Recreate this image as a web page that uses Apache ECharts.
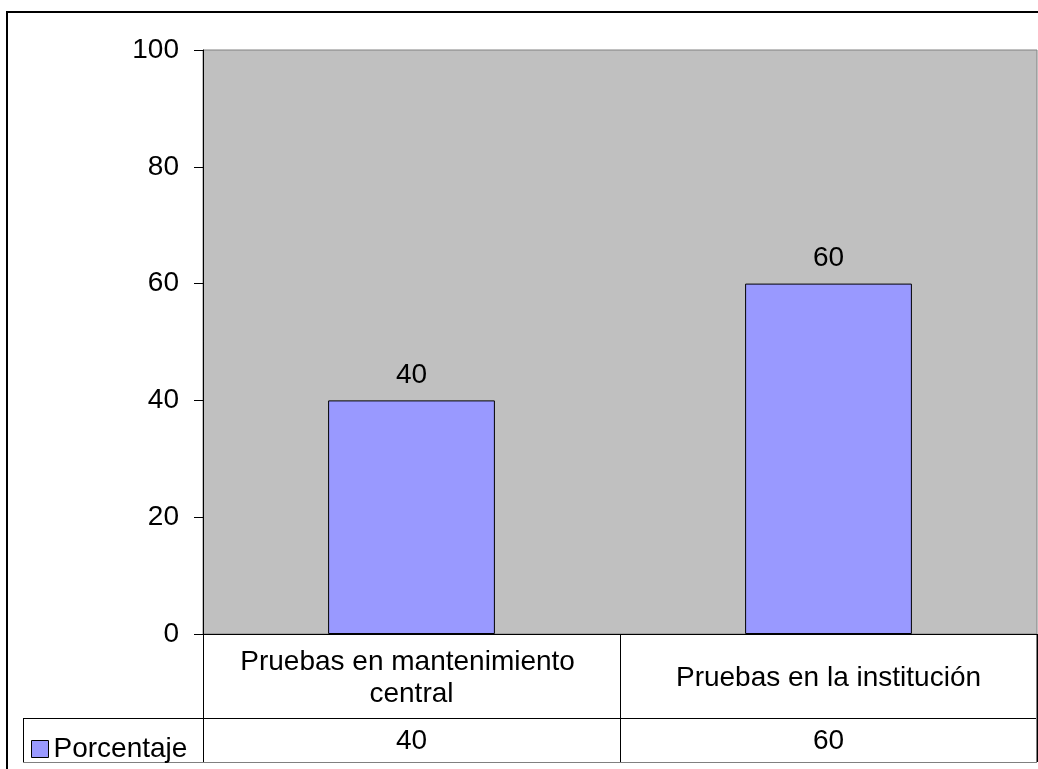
<!DOCTYPE html>
<html>
<head>
<meta charset="utf-8">
<script src="https://cdn.jsdelivr.net/npm/echarts@6/dist/echarts.min.js"></script>
<style>
html,body{margin:0;padding:0;background:#fff;}
#c{width:1038px;height:769px;}
</style>
</head>
<body>
<div id="c"></div>
<script>
const categories = ['Pruebas en mantenimiento central', 'Pruebas en la institución'];
const seriesName = 'Porcentaje';
const values = [40, 60];
const yTicks = { min: 0, max: 100, interval: 20 };

const FONT = '"Liberation Sans", Arial, sans-serif';
const FS = 28;
const chart = echarts.init(document.getElementById('c'), null, { renderer: 'canvas' });

const option = {
  animation: false,
  backgroundColor: '#ffffff',
  textStyle: { fontFamily: FONT },
  grid: {
    left: 203, top: 50, right: 1, bottom: 135,
    show: true, backgroundColor: '#C0C0C0', borderColor: '#808080', borderWidth: 1
  },
  legend: {
    show: true,
    left: 31, top: 735, padding: 0,
    icon: 'rect', itemWidth: 17, itemHeight: 17,
    itemStyle: { borderColor: '#000', borderWidth: 1 },
    textStyle: { fontSize: FS, color: '#000', fontFamily: FONT },
    data: [seriesName]
  },
  xAxis: [
    {
      type: 'category',
      data: categories,
      position: 'bottom',
      axisLine: { show: true, lineStyle: { color: '#000', width: 1 } },
      axisTick: { show: true, length: 128, lineStyle: { color: '#000', width: 1 } },
      axisLabel: {
        interval: 0, fontSize: FS, color: '#000', fontFamily: FONT,
        width: 390, overflow: 'break', lineHeight: 32,
        margin: 44, verticalAlign: 'middle', align: 'center'
      }
    },
    {
      type: 'category',
      data: values.map(String),
      position: 'bottom',
      offset: 0,
      axisLine: { show: false },
      axisTick: { show: false },
      axisLabel: {
        interval: 0, fontSize: FS, color: '#000', fontFamily: FONT,
        margin: 107, verticalAlign: 'middle', align: 'center'
      }
    }
  ],
  yAxis: {
    type: 'value',
    min: yTicks.min, max: yTicks.max, interval: yTicks.interval,
    axisLine: { show: true, lineStyle: { color: '#000', width: 1 } },
    axisTick: { show: true, length: 9, lineStyle: { color: '#000' } },
    splitLine: { show: false },
    axisLabel: { fontSize: FS, color: '#000', margin: 24, fontFamily: FONT }
  },
  series: [{
    name: seriesName,
    type: 'bar',
    xAxisIndex: 0,
    data: values,
    barWidth: '40%',
    itemStyle: { color: '#9999FF', borderColor: '#000', borderWidth: 1 },
    label: { show: true, position: 'top', distance: 11, fontSize: FS, color: '#000', fontFamily: FONT }
  }],
  graphic: [
    { type: 'rect', shape: { x: 7, y: 12, width: 1100, height: 900 }, style: { fill: 'none', stroke: '#000', lineWidth: 2 }, silent: true },
    { type: 'line', shape: { x1: 23, y1: 718.5, x2: 1037, y2: 718.5 }, style: { stroke: '#000', lineWidth: 1 } },
    { type: 'line', shape: { x1: 23, y1: 762.5, x2: 1037, y2: 762.5 }, style: { stroke: '#808080', lineWidth: 1 } },
    { type: 'line', shape: { x1: 23.5, y1: 718, x2: 23.5, y2: 762 }, style: { stroke: '#000', lineWidth: 1 } },
    { type: 'line', shape: { x1: 1036.5, y1: 634, x2: 1036.5, y2: 762 }, style: { stroke: '#808080', lineWidth: 1 } }
  ]
};
chart.setOption(option);
</script>
</body>
</html>
